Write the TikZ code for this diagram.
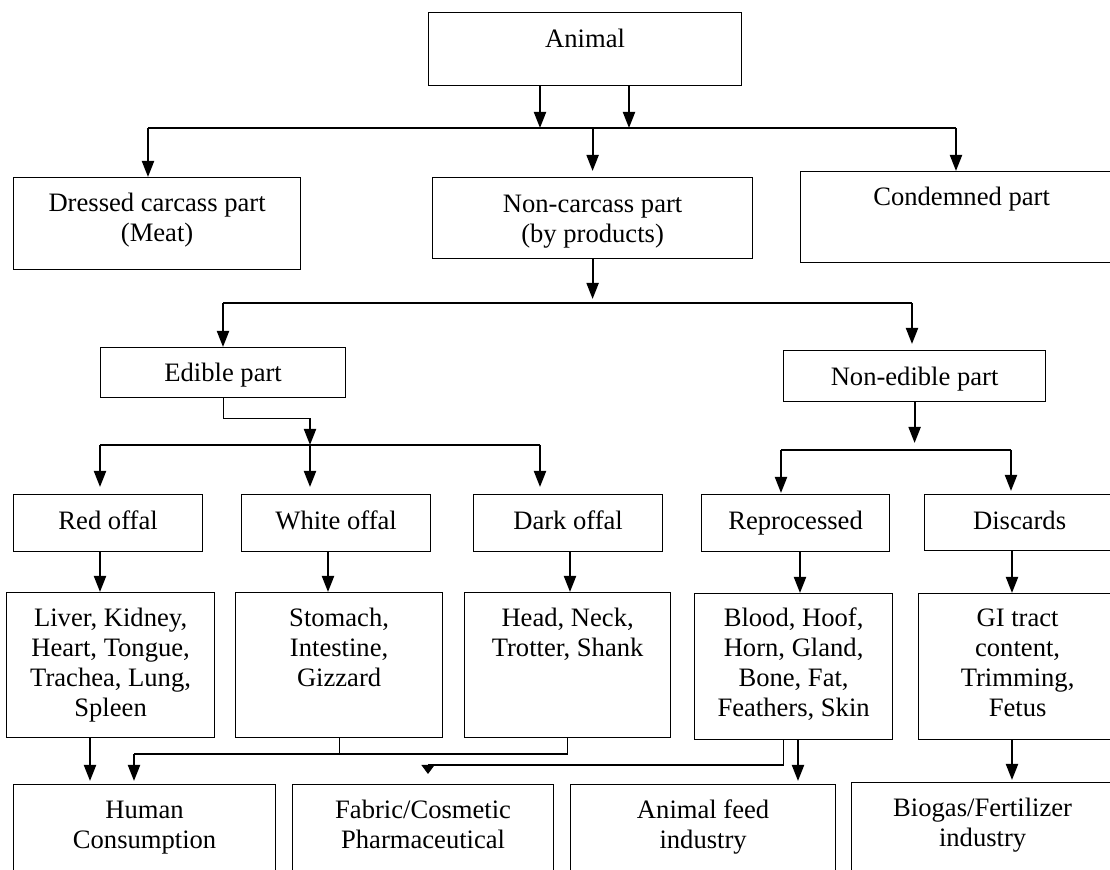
\documentclass[tikz,border=0pt]{standalone}
\usepackage{fontspec}
\setmainfont{Liberation Serif}
\usetikzlibrary{arrows.meta}

\tikzset{
    box/.style={draw, line width=0.6pt, inner sep=0pt, align=center,
        anchor=north west, font=\fontsize{13.3}{15}\selectfont},
    bus/.style={line width=0.9pt},
    thin/.style={line width=0.6pt},
    arr/.style={line width=1pt, -{Triangle[length=8pt,width=6pt]}},
    smallarr/.style={line width=0.6pt, -{Triangle[length=4.5pt,width=6.5pt]}}
}

\begin{document}
\begin{tikzpicture}[x=0.5pt,y=-0.5pt]

    \useasboundingbox (0,0) rectangle (1110,870);
    \clip (0,0) rectangle (1110,870);

    % top level
    \node[box, minimum width=156.5pt, text height=17.5pt, text depth=19pt]
        (animal) at (428,12) {Animal};
    \node[box, minimum width=143.5pt, text height=32pt, text depth=14pt]
        (dressed) at (13,177) {Dressed carcass part\\(Meat)};
    \node[box, minimum width=160pt, text height=32.5pt, text depth=8pt]
        (noncarc) at (432,177) {Non-carcass part\\(by products)};
    \node[box, minimum width=161pt, text height=17pt, text depth=28.5pt]
        (condemned) at (800,171) {Condemned part};

    \coordinate (a1) at (540,128);
    \coordinate (a2) at (629,128);
    \coordinate (b1) at (148,128);
    \coordinate (b3) at (956,128);
    \draw[arr] (animal.south -| a1) -- (a1);
    \draw[arr] (animal.south -| a2) -- (a2);
    \draw[bus] (b1) -- (b3);
    \draw[arr] (b1) -- (b1 |- dressed.north);
    \draw[arr, shorten >=3pt] (noncarc.north |- b1) -- (noncarc.north);
    \draw[arr] (b3) -- (b3 |- condemned.north);

    % edible / non-edible
    \node[box, minimum width=122.5pt, text height=17pt, text depth=8pt]
        (edible) at (100,347) {Edible part};
    \node[box, minimum width=131pt, text height=17.5pt, text depth=8pt]
        (nonedible) at (783,350) {Non-edible part};

    \coordinate (c1) at (223,303);
    \coordinate (c2) at (912,303);
    \draw[arr, shorten >=2pt] (noncarc.south) -- (noncarc.south |- c1);
    \draw[bus] (c1) -- (c2);
    \draw[arr] (c1) -- (c1 |- edible.north);
    \draw[arr, shorten >=3pt] (c2) -- (c2 |- nonedible.north);

    % offal and reprocessing
    \node[box, minimum width=94.5pt, text height=17.5pt, text depth=11pt]
        (red) at (13,494) {Red offal};
    \node[box, minimum width=94.5pt, text height=17.5pt, text depth=11pt]
        (white) at (241,494) {White offal};
    \node[box, minimum width=94.5pt, text height=17.5pt, text depth=11pt]
        (dark) at (473,494) {Dark offal};
    \node[box, minimum width=94pt, text height=17.5pt, text depth=11pt]
        (reproc) at (701,494) {Reprocessed};
    \node[box, minimum width=95pt, text height=17.5pt, text depth=10.5pt]
        (discards) at (924,494) {Discards};

    \coordinate (d1) at (100,445);
    \coordinate (d2) at (310,445);
    \coordinate (d3) at (540,445);
    \draw[thin] (edible.south) -- ++(0,20) -| (310,430);
    \draw[arr] (310,420) -- (d2);
    \draw[bus] (d1) -- (d3);
    \draw[arr, shorten >=3.5pt] (d1) -- (d1 |- red.north);
    \draw[arr, shorten >=3.5pt] (d2) -- (d2 |- white.north);
    \draw[arr, shorten >=3.5pt] (d3) -- (d3 |- dark.north);

    \coordinate (e1) at (781,450);
    \coordinate (e2) at (1011,450);
    \draw[arr, shorten >=3.5pt] (nonedible.south) -- (nonedible.south |- e1);
    \draw[bus] (e1) -- (e2);
    \draw[arr, shorten >=0.5pt] (e1) -- (e1 |- reproc.north);
    \draw[arr, shorten >=1.5pt] (e2) -- (e2 |- discards.north);

    % contents
    \node[box, minimum width=104pt, text height=62pt, text depth=10.5pt]
        (reddet) at (6,592) {Liver, Kidney,\\Heart, Tongue,\\Trachea, Lung,\\Spleen};
    \node[box, minimum width=103.5pt, text height=47pt, text depth=25.5pt]
        (whitedet) at (235,592) {Stomach,\\Intestine,\\Gizzard};
    \node[box, minimum width=103pt, text height=32pt, text depth=40.5pt]
        (darkdet) at (464,592) {Head, Neck,\\Trotter, Shank};
    \node[box, minimum width=99pt, text height=61.5pt, text depth=11.5pt]
        (reprodet) at (694,593) {Blood, Hoof,\\Horn, Gland,\\Bone, Fat,\\Feathers, Skin};
    \node[box, minimum width=99pt, text height=61.5pt, text depth=11.5pt]
        (discdet) at (918,593) {GI tract\\content,\\Trimming,\\Fetus};

    \coordinate (f1) at (100,0);
    \coordinate (f2) at (328,0);
    \coordinate (f3) at (570,0);
    \coordinate (f4) at (800,0);
    \coordinate (f5) at (1012,0);
    \draw[arr] (red.south -| f1) -- (reddet.north -| f1);
    \draw[arr] (white.south -| f2) -- (whitedet.north -| f2);
    \draw[arr] (dark.south -| f3) -- (darkdet.north -| f3);
    \draw[arr] (reproc.south -| f4) -- (reprodet.north -| f4);
    \draw[arr] (discards.south -| f5) -- (discdet.north -| f5);

    % uses
    \node[box, minimum width=131pt, text height=32pt, text depth=35pt]
        (human) at (13,784) {Human\\Consumption};
    \node[box, minimum width=130.5pt, text height=32pt, text depth=35pt]
        (fabric) at (292,784) {Fabric/Cosmetic\\Pharmaceutical};
    \node[box, minimum width=132.5pt, text height=32pt, text depth=35pt]
        (feed) at (570,784) {Animal feed\\industry};
    \node[box, minimum width=131pt, text height=32pt, text depth=36pt]
        (biogas) at (851,782) {Biogas/Fertilizer\\industry};

    \coordinate (g1) at (90,0);
    \coordinate (h) at (134,754);
    \coordinate (k) at (428,765);
    \coordinate (m) at (798,0);
    \coordinate (n) at (1012,0);
    \draw[arr, shorten >=1.5pt] (reddet.south -| g1) -- (human.north -| g1);
    \draw[thin] (whitedet.south) -- (whitedet.south |- h);
    \draw[thin] (darkdet.south) |- (h);
    \draw[arr, shorten >=1.5pt] (h) -- (h |- human.north);
    \draw[thin] ([xshift=-5pt]reprodet.south) |- (k);
    \draw[smallarr, shorten >=5pt] (k) -- (k |- fabric.north);
    \draw[arr, shorten >=1.5pt] (reprodet.south -| m) -- (feed.north -| m);
    \draw[arr, shorten >=1pt] (discdet.south -| n) -- (biogas.north -| n);

\end{tikzpicture}
\end{document}
